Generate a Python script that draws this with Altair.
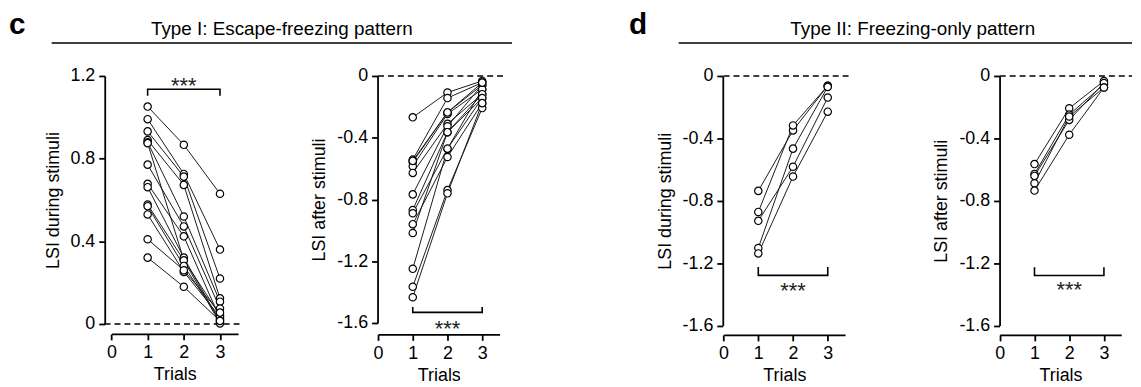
import altair as alt
import pandas as pd

FONT = "Liberation Sans"
trials = [1, 2, 3]

# ---- Type I, LSI during stimuli ----
c1_trial1 = [1.052, 0.991, 0.932, 0.890, 0.879, 0.875, 0.771, 0.678, 0.662, 0.578, 0.570, 0.530, 0.410, 0.321]
c1_trial2 = [0.867, 0.726, 0.713, 0.673, 0.520, 0.310, 0.472, 0.424, 0.321, 0.308, 0.281, 0.252, 0.260, 0.180]
c1_trial3 = [0.630, 0.360, 0.220, 0.124, 0.108, 0.043, 0.075, 0.027, 0.011, 0.003, 0.020, 0.035, 0.055, 0.015]

# ---- Type I, LSI after stimuli ----
c2_trial1 = [-0.268, -0.542, -0.557, -0.585, -0.628, -0.767, -0.868, -0.889, -0.960, -1.017, -1.249, -1.365, -1.433, -0.550]
c2_trial2 = [-0.107, -0.143, -0.236, -0.246, -0.310, -0.326, -0.364, -0.471, -0.525, -0.364, -0.471, -0.739, -0.760, -0.236]
c2_trial3 = [-0.032, -0.043, -0.058, -0.086, -0.118, -0.058, -0.143, -0.086, -0.176, -0.118, -0.143, -0.208, -0.176, -0.043]

# ---- Type II, LSI during stimuli ----
d1_trial1 = [-0.737, -0.872, -0.929, -1.103, -1.138]
d1_trial2 = [-0.349, -0.317, -0.582, -0.466, -0.645]
d1_trial3 = [-0.063, -0.063, -0.138, -0.070, -0.229]

# ---- Type II, LSI after stimuli ----
d2_trial1 = [-0.565, -0.629, -0.641, -0.688, -0.735]
d2_trial2 = [-0.207, -0.248, -0.282, -0.260, -0.377]
d2_trial3 = [-0.032, -0.053, -0.045, -0.074, -0.074]

pos_ticks = [0, 0.4, 0.8, 1.2]
neg_ticks = [0, -0.4, -0.8, -1.2, -1.6]
x_ticks = [0, 1, 2, 3]


def long_df(t1, t2, t3):
    rows = []
    for i, vals in enumerate(zip(t1, t2, t3)):
        for t, v in zip(trials, vals):
            rows.append({"subject": i, "trial": t, "value": v})
    return pd.DataFrame(rows)


LABEL_EXPR = ("datum.value == 0 ? '0' : (datum.value < 0 ? '-' + format(-datum.value, '.1f') "
              ": format(datum.value, '.1f'))")


def panel(df, xrange, yrange, ydomain, yticks, ytitle, yoff, xoff, dash_x,
          bracket_bar, bracket_end, stars_y):
    xs = alt.Scale(domain=[0, 3.5], range=xrange, nice=False, zero=False)
    ys = alt.Scale(domain=ydomain, range=yrange, nice=False, zero=False)
    xax = alt.Axis(values=x_ticks, orient="bottom", offset=xoff, title="Trials",
                   format="d", labelFlush=False, labelOverlap=False)
    yax = alt.Axis(values=yticks, orient="left", offset=yoff, title=ytitle,
                   labelExpr=LABEL_EXPR, labelOverlap=False)
    X = alt.X("trial:Q", scale=xs, axis=xax)
    Y = alt.Y("value:Q", scale=ys, axis=yax)

    dash_df = pd.DataFrame({"trial": [dash_x[0]], "trial2": [dash_x[1]], "value": [0.0]})
    dash = alt.Chart(dash_df).mark_rule(strokeDash=[6, 4], strokeWidth=1.7, color="black").encode(
        x=X, x2=alt.X2("trial2"), y=Y)
    lines = alt.Chart(df).mark_line(color="#1a1a1a", strokeWidth=1).encode(
        x=X, y=Y, detail="subject:N", order="trial:Q")
    pts = alt.Chart(df).mark_circle(fill="white", stroke="black", strokeWidth=1.2,
                                    size=55, opacity=1).encode(x=X, y=Y)
    br_df = pd.DataFrame({"trial": [1, 1, 3, 3],
                          "value": [bracket_end, bracket_bar, bracket_bar, bracket_end],
                          "o": [0, 1, 2, 3]})
    br = alt.Chart(br_df).mark_line(color="black", strokeWidth=1.6).encode(x=X, y=Y, order="o:Q")
    st_df = pd.DataFrame({"trial": [2], "value": [stars_y]})
    st = alt.Chart(st_df).mark_text(text="***", fontSize=22, font=FONT, baseline="alphabetic",
                                    color="#222").encode(x=X, y=Y)
    return alt.layer(dash, lines, pts, br, st)


p1 = panel(long_df(c1_trial1, c1_trial2, c1_trial3), [104.3, 231.9], [317, 67], [0, 1.2],
           pos_ticks, "LSI during stimuli", -97.5, 10, [-0.19, 3.58], 1.136, 1.104, 1.116)
p2 = panel(long_df(c2_trial1, c2_trial2, c2_trial3), [373, 495.5], [316, 67], [-1.6, 0],
           neg_ticks, "LSI after stimuli", -372.5, 10.5, [0, 3.69], -1.531, -1.497, -1.683)
p3 = panel(long_df(d1_trial1, d1_trial2, d1_trial3), [721.3, 843.8], [318.5, 67], [-1.6, 0],
           neg_ticks, "LSI during stimuli", -720.5, 11, [0, 3.65], -1.279, -1.225, -1.422)
p4 = panel(long_df(d2_trial1, d2_trial2, d2_trial3), [999.7, 1122.2], [318.5, 67], [-1.6, 0],
           neg_ticks, "LSI after stimuli", -999.5, 11, [0, 3.81], -1.28, -1.227, -1.415)


def hdr_text(txt, x, y, size, weight, align):
    return alt.Chart(alt.Data(values=[{}])).mark_text(
        text=txt, fontSize=size, fontWeight=weight, font=FONT, align=align,
        baseline="alphabetic", color="black").encode(x=alt.value(x), y=alt.value(y))


def hdr_rule(x1, x2, y):
    return alt.Chart(alt.Data(values=[{}])).mark_rule(color="black", strokeWidth=1.5).encode(
        x=alt.value(x1), x2=alt.value(x2), y=alt.value(y))


headers = [
    hdr_text("c", 1, 25, 30, "bold", "left"),
    hdr_text("d", 626, 25, 30, "bold", "left"),
    hdr_text("Type I: Escape-freezing pattern", 276, 25.5, 19, "normal", "center"),
    hdr_text("Type II: Freezing-only pattern", 912, 25.5, 19, "normal", "center"),
    hdr_rule(44, 508, 33.7),
    hdr_rule(676, 1133, 33.7),
]

chart = alt.layer(p1, p2, p3, p4, *headers).resolve_scale(
    x="independent", y="independent"
).properties(
    width=1133, height=317, padding=0
).configure_view(
    stroke=None
).configure_axis(
    grid=False,
    domainColor="black", domainWidth=1.8,
    tickColor="black", tickWidth=1.8, tickSize=6,
    labelFont=FONT, labelFontSize=18, labelColor="black", labelPadding=4,
    titleFont=FONT, titleFontSize=18, titleFontWeight="normal", titleColor="black",
).configure_axisX(titlePadding=4).configure_axisY(titlePadding=8)

chart.save("out.html", embed_options={"renderer": "svg", "actions": False})
